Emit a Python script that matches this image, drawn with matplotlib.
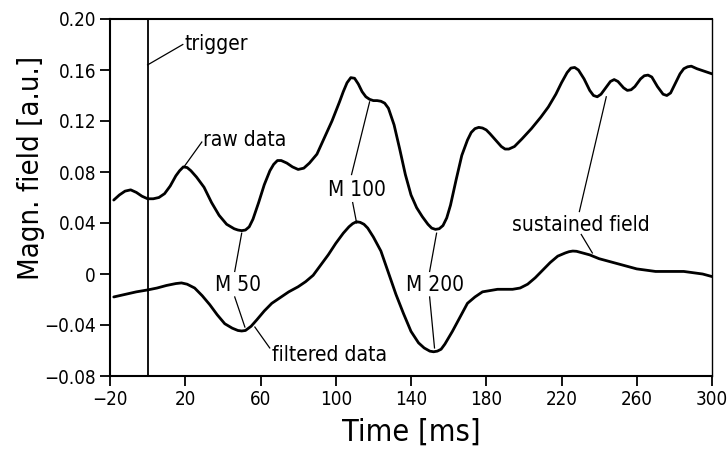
import matplotlib
matplotlib.use('Agg')
import matplotlib.pyplot as plt
from matplotlib import font_manager

# pick a condensed sans if one is installed
names = {f.name for f in font_manager.fontManager.ttflist}
condensed = [f for f in font_manager.fontManager.ttflist
             if f.name == 'DejaVu Sans' and f.stretch in ('condensed', 'semi-condensed', 600, 700)]
if condensed:
    plt.rcParams['font.family'] = ['DejaVu Sans']
    plt.rcParams['font.stretch'] = 'condensed'
elif 'Liberation Sans Narrow' in names:
    plt.rcParams['font.family'] = ['Liberation Sans Narrow', 'DejaVu Sans']
else:
    plt.rcParams['font.family'] = ['DejaVu Sans']
plt.rcParams['axes.unicode_minus'] = True

# raw data curve
raw_t = [-18, -15, -12, -9, -6, -3, 0, 3, 6, 9, 12, 15, 17, 19, 21, 23, 26, 30, 34, 38, 42,
         46, 48, 50, 52, 54, 56, 59, 62, 65, 67, 69, 71, 74, 77, 80, 83, 86, 90, 94, 98, 102,
         104, 106, 108, 110, 112, 114, 116, 118, 120, 122, 124, 126, 128, 131, 134, 137, 140,
         143, 146, 149, 151, 153, 155, 157, 159, 161, 164, 167, 170, 172, 174, 176, 178, 180,
         182, 185, 188, 190, 192, 195, 199, 204, 209, 213, 217, 220, 223, 225, 227, 229, 232,
         235, 237, 239, 241, 244, 246, 248, 250, 253, 255, 257, 259, 262, 264, 266, 268, 271,
         274, 276, 278, 280, 283, 285, 287, 289, 292, 296, 300]
raw_v = [0.058, 0.062, 0.065, 0.066, 0.064, 0.061, 0.059, 0.059, 0.060, 0.063, 0.069, 0.077,
         0.081, 0.084, 0.0835, 0.081, 0.076, 0.068, 0.056, 0.046, 0.039,
         0.0355, 0.0345, 0.034, 0.0345, 0.037, 0.043, 0.056, 0.070, 0.081, 0.086, 0.089,
         0.089, 0.087, 0.084, 0.082, 0.083, 0.087, 0.094, 0.107, 0.120, 0.135,
         0.143, 0.150, 0.154, 0.1535, 0.149, 0.143, 0.139, 0.137, 0.136, 0.136, 0.1355,
         0.134, 0.130, 0.117, 0.098, 0.078, 0.062,
         0.052, 0.045, 0.039, 0.036, 0.035, 0.0355, 0.038, 0.044, 0.054, 0.074, 0.093, 0.105,
         0.111, 0.114, 0.115, 0.1145, 0.113,
         0.110, 0.105, 0.100, 0.098, 0.098, 0.100, 0.106, 0.114, 0.123, 0.131, 0.141, 0.150,
         0.158, 0.1615, 0.162, 0.160, 0.153,
         0.144, 0.140, 0.139, 0.141, 0.147, 0.151, 0.1525, 0.151, 0.146, 0.144, 0.1445,
         0.147, 0.153, 0.1555, 0.156, 0.1545, 0.147,
         0.141, 0.140, 0.142, 0.148, 0.157, 0.161, 0.1625, 0.163, 0.161, 0.159, 0.157]

# filtered data curve
filt_t = [-18, -12, -6, 0, 5, 10, 15, 18, 21, 25, 29, 33, 37, 41, 45, 48, 50, 52, 55, 58,
          62, 66, 70, 75, 80, 84, 88, 92, 96, 100, 104, 107, 109, 111, 113, 115, 117, 120,
          124, 128, 132, 136, 140, 144, 147, 150, 152, 154, 156, 158, 162, 166, 170, 174,
          178, 182, 186, 190, 194, 198, 202, 206, 210, 214, 218, 222, 224, 226, 228, 230,
          235, 240, 245, 250, 255, 260, 265, 270, 275, 280, 285, 290, 295, 300]
filt_v = [-0.018, -0.016, -0.014, -0.0125, -0.011, -0.009, -0.0075, -0.007, -0.008, -0.011,
          -0.017, -0.024, -0.032, -0.039, -0.0425, -0.0443, -0.0447, -0.0443, -0.041, -0.036,
          -0.029, -0.023, -0.019, -0.014, -0.010, -0.006, -0.001, 0.007, 0.015, 0.024, 0.032,
          0.037, 0.0395, 0.041, 0.0405, 0.039, 0.036, 0.029,
          0.018, 0.001, -0.016, -0.031, -0.045, -0.054, -0.058, -0.0605, -0.061, -0.0605,
          -0.059, -0.055, -0.045, -0.034, -0.023, -0.018,
          -0.014, -0.013, -0.012, -0.012, -0.012, -0.011, -0.008, -0.003, 0.003, 0.009,
          0.014, 0.0165, 0.0175, 0.018, 0.0178, 0.017,
          0.015, 0.012, 0.010, 0.008, 0.006, 0.004, 0.003, 0.002, 0.002, 0.002, 0.002,
          0.001, 0.000, -0.002]

trigger_t = 0

x_ticks = [-20, 20, 60, 100, 140, 180, 220, 260, 300]
y_ticks = [-0.08, -0.04, 0, 0.04, 0.08, 0.12, 0.16, 0.20]
y_ticklabels = ['\u22120.08', '\u22120.04', '0', '0.04', '0.08', '0.12', '0.16', '0.20']

# labels: text, text position, alignment, leader lines (from, to)
labels = [
    ('trigger', (19.5, 0.180), 'left', [((0, 0.164), (18.7, 0.180))]),
    ('raw data', (29.3, 0.105), 'left', [((19.8, 0.085), (28.8, 0.1035))]),
    ('M 50', (47.9, -0.0086), 'center', [((50, 0.032), (46.3, 0.002)),
                                          ((46.3, -0.018), (51.7, -0.0416))]),
    ('M 100', (111.1, 0.066), 'center', [((118, 0.135), (108.4, 0.078)),
                                          ((109, 0.056), (111.1, 0.040))]),
    ('M 200', (152.5, -0.0086), 'center', [((153.6, 0.032), (149.9, 0.002)),
                                           ((149.9, -0.018), (152.5, -0.058))]),
    ('sustained field', (230.5, 0.0384), 'center', [((243.8, 0.139), (229.5, 0.049)),
                                                    ((230.5, 0.031), (236.4, 0.0165))]),
    ('filtered data', (66.0, -0.0635), 'left', [((57, -0.0416), (64.9, -0.058))]),
]

fig = plt.figure(figsize=(7.27, 4.53), dpi=100)
ax = fig.add_axes([110 / 727, 77 / 453, 602 / 727, 357 / 453])

ax.plot(raw_t, raw_v, color='black', lw=2.0, solid_capstyle='round', solid_joinstyle='round')
ax.plot(filt_t, filt_v, color='black', lw=2.0, solid_capstyle='round', solid_joinstyle='round')
ax.axvline(trigger_t, color='black', lw=1.3)

for text, pos, ha, leaders in labels:
    ax.text(pos[0], pos[1], text, ha=ha, va='center', fontsize=15)
    for p0, p1 in leaders:
        ax.plot([p0[0], p1[0]], [p0[1], p1[1]], color='black', lw=0.9)

ax.set_xlim(-20, 300)
ax.set_ylim(-0.08, 0.20)
ax.set_xticks(x_ticks)
ax.set_xticklabels([str(t).replace('-', '\u2212') for t in x_ticks])
ax.set_yticks(y_ticks)
ax.set_yticklabels(y_ticklabels)
ax.tick_params(axis='both', direction='out', length=7, width=1.3, labelsize=13.5, pad=3)

for s in ax.spines.values():
    s.set_linewidth(1.5)
ax.spines['right'].set_linewidth(1.0)

ax.set_xlabel('Time [ms]', fontsize=22, labelpad=6)
ax.set_ylabel('Magn. field [a.u.]', fontsize=21)
ax.yaxis.set_label_coords(-0.108, 0.583)

fig.savefig('out.png', dpi=100)
